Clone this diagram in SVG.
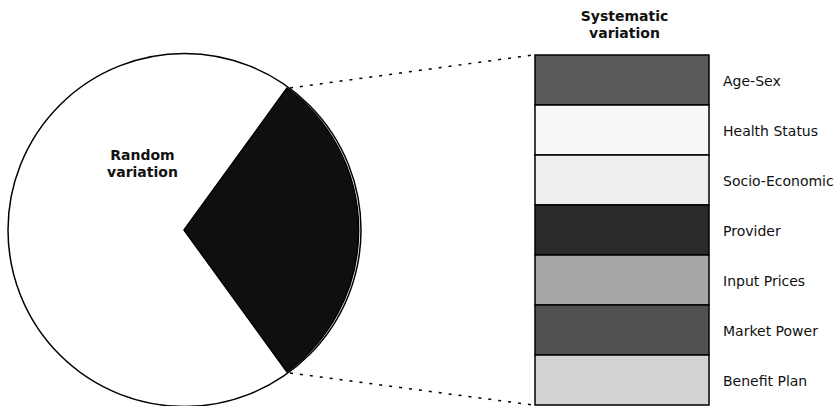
<svg xmlns="http://www.w3.org/2000/svg" width="839" height="406" viewBox="0 0 839 406">
  <style>
    .lbl { font-family: "DejaVu Sans", Verdana, sans-serif; font-size: 14px; fill: #111; }
    .ttl { font-family: "DejaVu Sans", Verdana, sans-serif; font-size: 14px; font-weight: bold; fill: #111; text-anchor: middle; }
    .bar { stroke: #000; stroke-width: 1.5; }
    .dot { stroke: #000; stroke-width: 1.5; stroke-dasharray: 3 7; fill: none; }
  </style>
  <rect width="839" height="406" fill="#fff"/>

  <!-- pie -->
  <g id="pie">
    <circle cx="184.5" cy="230" r="176.5" fill="#fff" stroke="#000" stroke-width="1.5"/>
    <path d="M184 230 L287 88 A176.5 176.5 0 0 1 287 372 Z" fill="#0f0f0f" stroke="#000" stroke-width="1.5" stroke-linejoin="round"/>
    <text class="ttl" x="142.5" y="160">Random</text>
    <text class="ttl" x="142.5" y="177">variation</text>
  </g>

  <!-- zoom connectors -->
  <g id="connectors">
    <line class="dot" x1="290" y1="88" x2="533" y2="55"/>
    <line class="dot" x1="290" y1="373" x2="533" y2="405"/>
  </g>

  <!-- stacked bar -->
  <g id="title">
    <text class="ttl" x="624.5" y="21">Systematic</text>
    <text class="ttl" x="624.5" y="38">variation</text>
  </g>
  <g id="age-sex">
    <rect class="bar" x="535" y="55" width="174" height="50" fill="#595959"/>
    <text class="lbl" x="723" y="86">Age-Sex</text>
  </g>
  <g id="health-status">
    <rect class="bar" x="535" y="105" width="174" height="50" fill="#f8f8f8"/>
    <text class="lbl" x="723" y="136">Health Status</text>
  </g>
  <g id="socio-economic">
    <rect class="bar" x="535" y="155" width="174" height="50" fill="#eeeeee"/>
    <text class="lbl" x="723" y="186">Socio-Economic</text>
  </g>
  <g id="provider">
    <rect class="bar" x="535" y="205" width="174" height="50" fill="#2a2a2a"/>
    <text class="lbl" x="723" y="236">Provider</text>
  </g>
  <g id="input-prices">
    <rect class="bar" x="535" y="255" width="174" height="50" fill="#a6a6a6"/>
    <text class="lbl" x="723" y="286">Input Prices</text>
  </g>
  <g id="market-power">
    <rect class="bar" x="535" y="305" width="174" height="50" fill="#515151"/>
    <text class="lbl" x="723" y="336">Market Power</text>
  </g>
  <g id="benefit-plan">
    <rect class="bar" x="535" y="355" width="174" height="50" fill="#d3d3d3"/>
    <text class="lbl" x="723" y="386">Benefit Plan</text>
  </g>
</svg>
